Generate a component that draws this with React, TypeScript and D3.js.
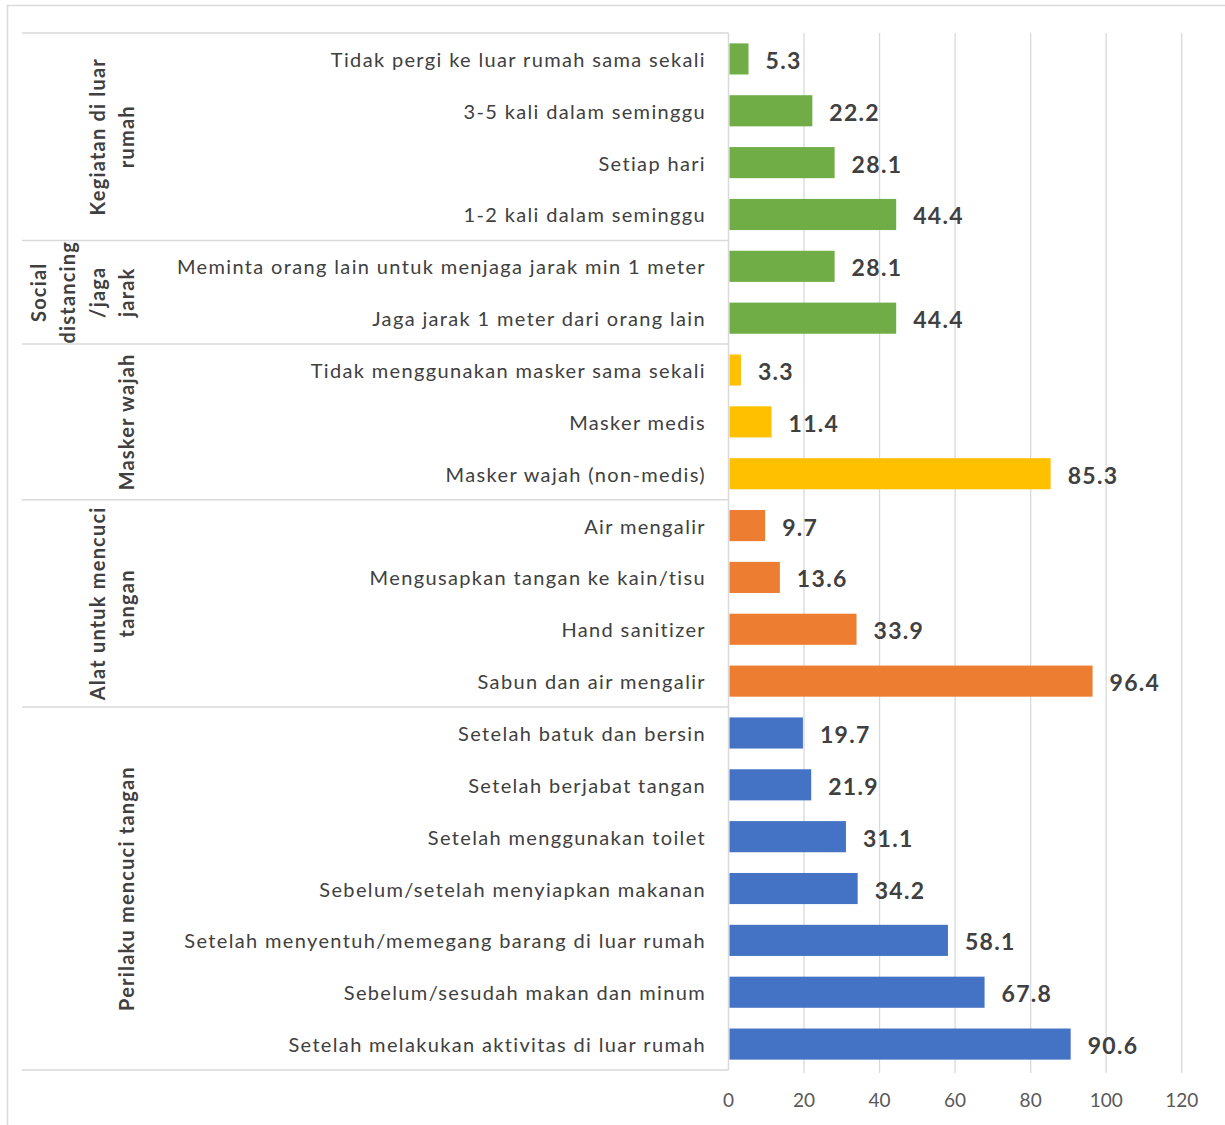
import React from "react";
import * as d3 from "d3";

const groupNames: string[][] = [
  ["Kegiatan di luar", "rumah"],
  ["Social", "distancing", "/jaga", "jarak"],
  ["Masker wajah"],
  ["Alat untuk mencuci", "tangan"],
  ["Perilaku mencuci tangan"],
];
const groupSizes = [4, 2, 3, 4, 7];
const groupColors = ["#70AD47", "#70AD47", "#FFC000", "#ED7D31", "#4472C4"];

const categories = [
  "Tidak pergi ke luar rumah sama sekali",
  "3-5 kali dalam seminggu",
  "Setiap hari",
  "1-2 kali dalam seminggu",
  "Meminta orang lain untuk menjaga jarak min 1 meter",
  "Jaga jarak 1 meter dari orang lain",
  "Tidak menggunakan masker sama sekali",
  "Masker medis",
  "Masker wajah (non-medis)",
  "Air mengalir",
  "Mengusapkan tangan ke kain/tisu",
  "Hand sanitizer",
  "Sabun dan air mengalir",
  "Setelah batuk dan bersin",
  "Setelah berjabat tangan",
  "Setelah menggunakan toilet",
  "Sebelum/setelah menyiapkan makanan",
  "Setelah menyentuh/memegang barang di luar rumah",
  "Sebelum/sesudah makan dan minum",
  "Setelah melakukan aktivitas di luar rumah",
];
const values = [5.3, 22.2, 28.1, 44.4, 28.1, 44.4, 3.3, 11.4, 85.3, 9.7, 13.6, 33.9, 96.4, 19.7, 21.9, 31.1, 34.2, 58.1, 67.8, 90.6];
const xTicks = [0, 20, 40, 60, 80, 100, 120];

const W = 1225;
const H = 1125;
const FONT = "Lato, 'Open Sans', 'Noto Sans', sans-serif";

export default function App() {
  const x = d3.scaleLinear().domain([0, 120]).range([728.5, 1181.7]);
  const y = d3
    .scaleBand<string>()
    .domain(categories)
    .range([33, 1070])
    .paddingInner(0.4)
    .paddingOuter(0.2);
  const step = y.step();
  const bw = y.bandwidth();
  const top = 33;
  const bottom = 1070;

  const rowGroup: number[] = [];
  groupSizes.forEach((n, gi) => {
    for (let k = 0; k < n; k++) rowGroup.push(gi);
  });
  const groupStarts: number[] = [];
  let acc = 0;
  groupSizes.forEach((n) => {
    groupStarts.push(acc);
    acc += n;
  });

  const rowTop = (i: number) => (y(categories[i]) as number) - (step - bw) / 2;

  return (
    <svg
      width={W}
      height={H}
      style={{ position: "absolute", left: 0, top: 0, background: "#fff" }}
      fontFamily={FONT}
    >
      <rect x={0} y={0} width={W} height={H} fill="#fff" />
      <rect x={7.5} y={5.5} width={W + 20} height={H + 20} fill="none" stroke="#d9d9d9" strokeWidth={1.5} />

      {xTicks.slice(1).map((t) => (
        <line key={t} x1={x(t)} x2={x(t)} y1={top} y2={1073} stroke="#d9d9d9" strokeWidth={1.3} />
      ))}

      {groupStarts.map((s, gi) => (
        <line key={gi} x1={22} x2={x(0)} y1={rowTop(s)} y2={rowTop(s)} stroke="#d9d9d9" strokeWidth={1.5} />
      ))}
      <line x1={22} x2={x(0)} y1={bottom} y2={bottom} stroke="#d9d9d9" strokeWidth={1.5} />
      <line x1={x(0)} x2={x(0)} y1={top} y2={bottom} stroke="#d9d9d9" strokeWidth={1.5} />

      {categories.map((c, i) => (
        <rect
          key={c}
          x={x(0) + 1}
          y={y(c)}
          width={x(values[i]) - x(0) - 1}
          height={bw}
          fill={groupColors[rowGroup[i]]}
        />
      ))}

      {categories.map((c, i) => (
        <text
          key={c}
          x={x(values[i]) + 17}
          y={(y(c) as number) + bw / 2 + 1}
          dominantBaseline="central"
          fontSize={23}
          fontWeight="bold"
          letterSpacing={1.3}
          fill="#404040"
        >
          {values[i].toFixed(1)}
        </text>
      ))}

      {categories.map((c) => (
        <text
          key={c}
          x={706}
          y={(y(c) as number) + bw / 2}
          dominantBaseline="central"
          textAnchor="end"
          fontSize={20}
          letterSpacing={1.35}
          fill="#404040"
        >
          {c}
        </text>
      ))}

      {groupNames.map((lines, gi) => {
        const s = groupStarts[gi];
        const cy = (rowTop(s) + rowTop(s) + groupSizes[gi] * step) / 2;
        return lines.map((ln, li) => {
          const lx = 126 - (lines.length - 1 - li) * 29.3;
          return (
            <text
              key={gi + "-" + li}
              transform={`translate(${lx},${cy}) rotate(-90)`}
              textAnchor="middle"
              dominantBaseline="central"
              fontSize={20}
              fontWeight="bold"
              letterSpacing={1.2}
              fill="#404040"
            >
              {ln}
            </text>
          );
        });
      })}

      {xTicks.map((t) => (
        <text
          key={t}
          x={x(t)}
          y={1099}
          textAnchor="middle"
          dominantBaseline="central"
          fontSize={19}
          fill="#595959"
        >
          {t}
        </text>
      ))}
    </svg>
  );
}
